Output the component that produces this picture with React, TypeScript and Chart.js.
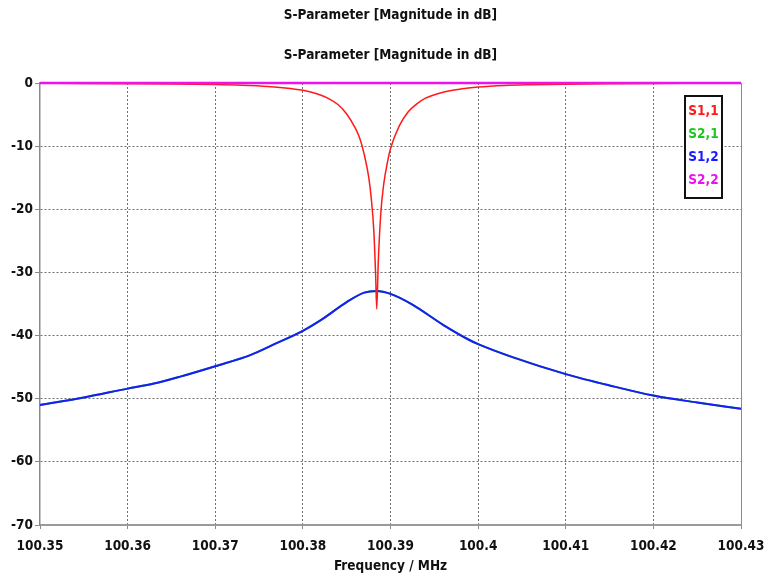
import React, { useEffect, useRef } from "react";
import { Chart, registerables } from "chart.js";

Chart.register(...registerables);

const titleText = "S-Parameter [Magnitude in dB]";
const xAxisTitle = "Frequency / MHz";

const xTickValues = [100.35, 100.36, 100.37, 100.38, 100.39, 100.4, 100.41, 100.42, 100.43];
const yTickValues = [0, -10, -20, -30, -40, -50, -60, -70];

const s11Freq = [
  100.35, 100.355, 100.36, 100.365, 100.37, 100.373, 100.376, 100.378, 100.38, 100.381,
  100.382, 100.383, 100.384, 100.385, 100.386, 100.3865, 100.387, 100.3875, 100.3878, 100.3881,
  100.3883, 100.38843, 100.3886, 100.3889, 100.3892, 100.3897, 100.39, 100.391, 100.392, 100.393,
  100.394, 100.396, 100.398, 100.4, 100.403, 100.406, 100.41, 100.415, 100.42, 100.425, 100.43,
];
const s11Db = [
  -0.05, -0.07, -0.1, -0.15, -0.25, -0.36, -0.55, -0.78, -1.15, -1.45,
  -1.9, -2.5, -3.4, -4.9, -7.2, -8.8, -11.3, -14.8, -18.2, -23.5,
  -30.3, -35.8, -28.5, -20.5, -16.3, -12.2, -10.4, -6.8, -4.6, -3.3,
  -2.4, -1.45, -0.95, -0.65, -0.4, -0.28, -0.18, -0.11, -0.07, -0.05, -0.04,
];

const s12Freq = [
  100.35, 100.355, 100.36, 100.363, 100.366, 100.37, 100.374, 100.377, 100.38, 100.382,
  100.385, 100.387, 100.3884, 100.39, 100.3925, 100.396, 100.399, 100.4, 100.404, 100.41,
  100.415, 100.42, 100.425, 100.43,
];
const s12Db = [
  -51.0, -49.8, -48.4, -47.6, -46.5, -44.85, -43.1, -41.2, -39.25, -37.6,
  -34.7, -33.2, -32.95, -33.4, -35.1, -38.3, -40.7, -41.35, -43.45, -46.1,
  -47.9, -49.5, -50.6, -51.6,
];

const s21Freq = s12Freq;
const s21Db = [
  -51.0, -49.8, -48.4, -47.6, -46.5, -44.85, -43.1, -41.2, -39.25, -37.6,
  -34.7, -33.2, -32.95, -33.4, -35.1, -38.3, -40.7, -41.35, -43.45, -46.1,
  -47.9, -49.5, -50.6, -51.6,
];

const s22Freq = [100.35, 100.37, 100.39, 100.41, 100.43];
const s22Db = [0, 0, 0, 0, 0];

const seriesNames = ["S1,1", "S2,1", "S1,2", "S2,2"];
const seriesColors = ["#ff1a1a", "#1ec81e", "#1a1aff", "#ee10ee"];

const FONT = "'DejaVu Sans Condensed', 'DejaVu Sans', sans-serif";

const toPoints = (xs: number[], ys: number[]) => xs.map((x, i) => ({ x, y: ys[i] }));

const overlayPlugin = {
  id: "overlay",
  beforeDatasetsDraw(chart: any) {
    const { ctx, chartArea } = chart;
    ctx.save();
    ctx.strokeStyle = "#8a8a8a";
    ctx.lineWidth = 1;
    ctx.beginPath();
    ctx.moveTo(chartArea.right + 0.5, chartArea.top);
    ctx.lineTo(chartArea.right + 0.5, chartArea.bottom);
    ctx.stroke();
    ctx.restore();
  },
  afterDraw(chart: any) {
    const { ctx, chartArea } = chart;
    const cx = (chartArea.left + chartArea.right) / 2;
    ctx.save();
    ctx.fillStyle = "#111";
    ctx.font = `bold 13.5px ${FONT}`;
    ctx.textAlign = "center";
    ctx.textBaseline = "alphabetic";
    ctx.fillText(titleText, cx, 19);
    ctx.fillText(titleText, cx, 59);

    // legend box
    const bx = chartArea.right - 56;
    const by = chartArea.top + 13;
    const bw = 37;
    const bh = 102;
    ctx.fillStyle = "#ffffff";
    ctx.fillRect(bx, by, bw, bh);
    ctx.strokeStyle = "#111";
    ctx.lineWidth = 2;
    ctx.strokeRect(bx, by, bw, bh);
    ctx.textBaseline = "middle";
    ctx.font = `bold 13.5px ${FONT}`;
    seriesNames.forEach((name, i) => {
      ctx.fillStyle = seriesColors[i];
      ctx.fillText(name, bx + bw / 2, by + 15 + i * 23);
    });
    ctx.restore();
  },
};

export default function App() {
  const canvasRef = useRef<HTMLCanvasElement | null>(null);

  useEffect(() => {
    if (!canvasRef.current) return;
    const chart = new Chart(canvasRef.current, {
      type: "line",
      data: {
        datasets: [
          {
            label: seriesNames[3],
            data: toPoints(s22Freq, s22Db),
            borderColor: seriesColors[3],
            borderWidth: 2.5,
            pointRadius: 0,
            clip: 4,
            order: 0,
          },
          {
            label: seriesNames[0],
            data: toPoints(s11Freq, s11Db),
            borderColor: seriesColors[0],
            borderWidth: 1.5,
            pointRadius: 0,
            cubicInterpolationMode: "monotone",
            clip: 4,
            order: 1,
          },
          {
            label: seriesNames[2],
            data: toPoints(s12Freq, s12Db),
            borderColor: seriesColors[2],
            borderWidth: 2,
            pointRadius: 0,
            cubicInterpolationMode: "monotone",
            clip: 4,
            order: 2,
          },
          {
            label: seriesNames[1],
            data: toPoints(s21Freq, s21Db),
            borderColor: seriesColors[1],
            borderWidth: 2,
            pointRadius: 0,
            cubicInterpolationMode: "monotone",
            clip: 4,
            order: 3,
          },
        ],
      },
      options: {
        animation: false,
        responsive: false,
        events: [],
        layout: { padding: { top: 83, right: 26, bottom: 0, left: 0 } },
        plugins: {
          legend: { display: false },
          title: { display: false },
          tooltip: { enabled: false },
        },
        scales: {
          x: {
            type: "linear",
            min: 100.35,
            max: 100.43,
            afterBuildTicks: (scale: any) => {
              scale.ticks = xTickValues.map((v) => ({ value: v }));
            },
            afterFit: (scale: any) => {
              scale.height = 52;
              scale.paddingLeft = 0;
              scale.paddingRight = 0;
            },
            ticks: {
              color: "#111",
              font: { family: FONT, size: 13.5, weight: "bold" },
              padding: 9,
              maxRotation: 0,
              autoSkip: false,
              callback: (v: any) => String(parseFloat(Number(v).toFixed(2))),
            },
            grid: {
              color: (c: any) =>
                c.index === 0 || c.index === xTickValues.length - 1 ? "rgba(0,0,0,0)" : "#6e6e6e",
              tickColor: "#8a8a8a",
              tickLength: 4,
              lineWidth: 1,
            } as any,
            border: { display: true, color: "#9a9a9a", width: 2, dash: [2, 2] } as any,
            title: {
              display: true,
              text: xAxisTitle,
              color: "#111",
              font: { family: FONT, size: 13.5, weight: "bold" },
              padding: { top: 0, bottom: 2 },
            },
          },
          y: {
            type: "linear",
            min: -70,
            max: 0,
            afterBuildTicks: (scale: any) => {
              scale.ticks = yTickValues.map((v) => ({ value: v }));
            },
            afterFit: (scale: any) => {
              scale.width = 40;
              scale.paddingTop = 0;
              scale.paddingBottom = 0;
            },
            ticks: {
              color: "#111",
              font: { family: FONT, size: 13.5, weight: "bold" },
              padding: 2,
            },
            grid: {
              color: (c: any) =>
                c.tick && (c.tick.value === 0 || c.tick.value === -70) ? "rgba(0,0,0,0)" : "#6e6e6e",
              tickColor: "#8a8a8a",
              tickLength: 5,
              lineWidth: 1,
            } as any,
            border: { display: true, color: "#8a8a8a", width: 1.5, dash: [2, 2] } as any,
          },
        },
      },
      plugins: [overlayPlugin],
    } as any);
    return () => chart.destroy();
  }, []);

  return (
    <div style={{ position: "fixed", left: 0, top: 0, width: 767, height: 577, background: "#fff" }}>
      <canvas ref={canvasRef} width={767} height={577} />
    </div>
  );
}
